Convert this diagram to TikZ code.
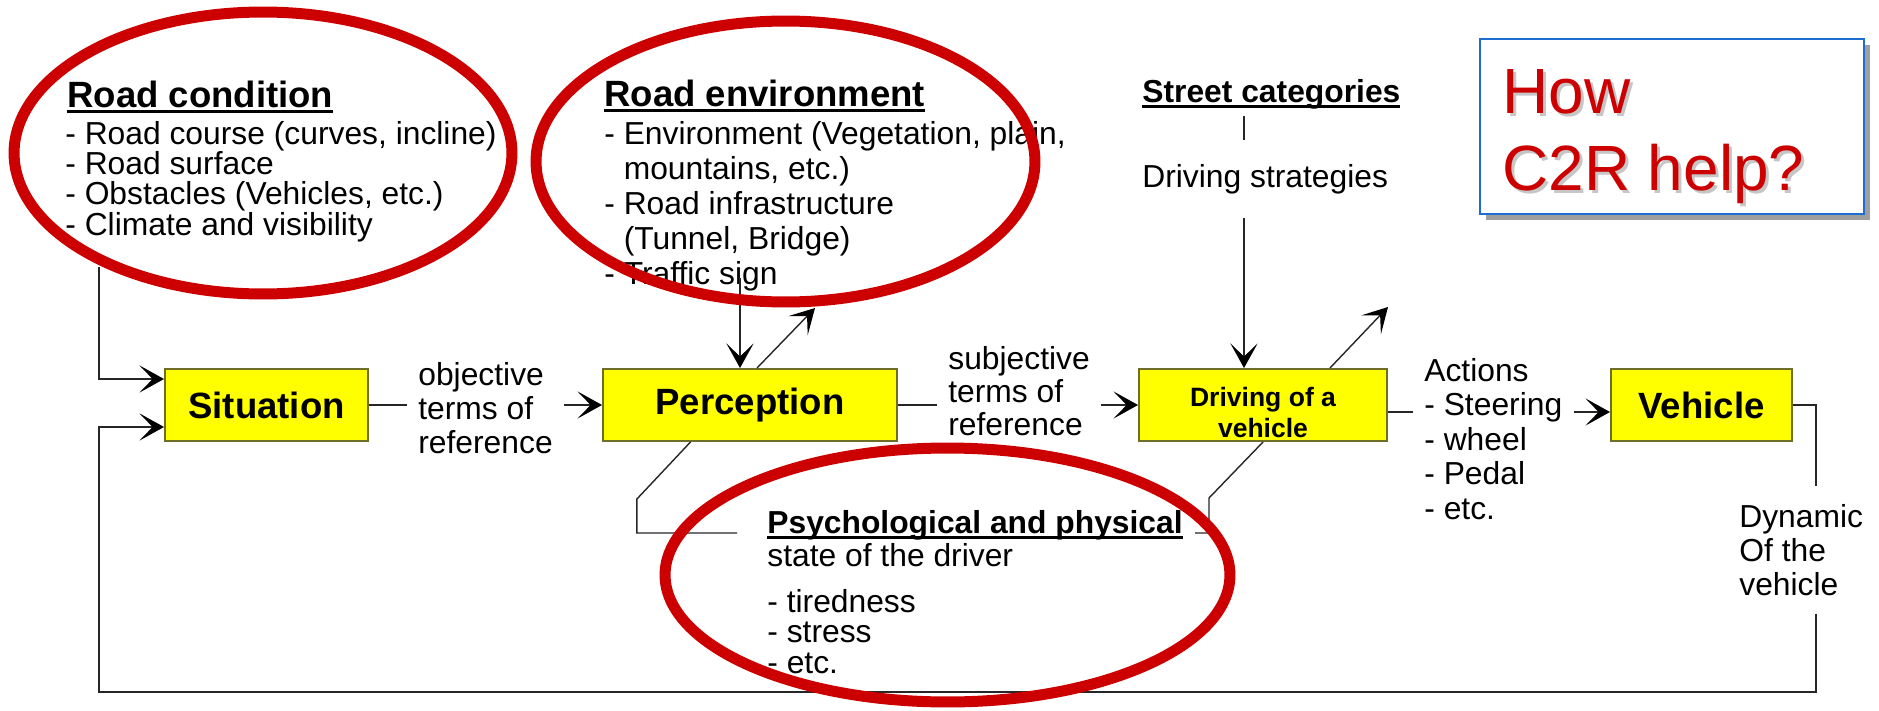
\documentclass[tikz,border=0pt]{standalone}
\usepackage{fontspec}
\setmainfont{Liberation Sans}
\usetikzlibrary{arrows.meta}

\definecolor{ringred}{RGB}{204,0,0}
\definecolor{boxyellow}{RGB}{255,255,0}
\definecolor{boxline}{RGB}{110,110,40}
\definecolor{frameblue}{RGB}{30,110,210}

% unterstrichene Ueberschrift
\newcommand{\ulhead}[1]{\setbox0\hbox{#1}\rlap{\rule[-3.4pt]{\wd0}{1.6pt}}\box0}

\tikzset{
  yellowbox/.style={draw=boxline, fill=boxyellow, line width=0.04cm, minimum height=1.44cm,
    inner sep=0pt, font=\fontsize{20.8}{24}\selectfont\bfseries},
  headbig/.style={anchor=base west, inner sep=0pt, font=\fontsize{20.8}{24}\selectfont\bfseries},
  headsmall/.style={anchor=base west, inner sep=0pt, font=\fontsize{18.1}{21}\selectfont\bfseries},
  bodytext/.style={anchor=base west, inner sep=0pt, align=left, font=\fontsize{18.1}{#1}\selectfont},
  bodytext/.default=20pt,
  drivetext/.style={anchor=base, align=center, inner sep=0pt, font=\fontsize{15.1}{17.6}\selectfont\bfseries},
  howtext/.style={anchor=base west, align=left, inner sep=0pt, text=ringred, font=\fontsize{36.4}{43.8}\selectfont},
  link/.style={line width=0.8pt, black!85},
  ring/.style={draw=ringred, line width=0.22cm}
}

\begin{document}
\begin{tikzpicture}[x=0.02cm, y=-0.02cm, >={Stealth[length=14pt,width=15.5pt,inset=7.5pt,black]}]
    \useasboundingbox (0,0) rectangle (1879,710);

    % Kaesten
    \node[yellowbox, minimum width=4.06cm] (sit) at (266.5,405) {Situation};
    \node[yellowbox, minimum width=5.88cm] (perc) at (750,405) {Perception};
    \node[yellowbox, minimum width=4.96cm] (drive) at (1263,405) {};
    \node[drivetext] (drivetxt) at (1263,437) {Driving of a\\vehicle};
    \node[yellowbox, minimum width=3.62cm] (veh) at (1701.5,405) {Vehicle};

    % Strassenzustand und Umgebung (Anker: letzte Grundlinie)
    \node[headbig] (rchead) at (67,107) {\ulhead{Road condition}};
    \node[bodytext=17.2pt] (rc) at (65,235) {- Road course (curves, incline)\\- Road surface\\- Obstacles (Vehicles, etc.)\\- Climate and visibility};
    \node[headbig] (rehead) at (604,106) {\ulhead{Road environment}};
    \node[bodytext=19.9pt] (re) at (604,284) {- Environment (Vegetation, plain,\\\hphantom{- }mountains, etc.)\\- Road infrastructure\\\hphantom{- }(Tunnel, Bridge)\\- Traffic sign};

    % Strassenkategorien
    \node[headsmall, inner ysep=0.13cm] (street) at (1142,102) {\ulhead{Street categories}};
    \node[bodytext, inner ysep=0.48cm] (strat) at (1142,187) {Driving strategies};

    % Fahrerzustand
    \node[headsmall] (psych) at (767,533) {\ulhead{Psychological and physical}};
    \node[bodytext=17.1pt] (psychtxt) at (767,673) {state of the driver\\[9.1pt]- tiredness\\- stress\\- etc.};

    % Beschriftungen
    \node[bodytext=19.1pt, inner xsep=0.22cm] (obj) at (407,453) {objective\\terms of\\reference};
    \node[bodytext=18.5pt, inner xsep=0.22cm] (subj) at (937,435) {subjective\\terms of\\reference};
    \node[bodytext=19.6pt, inner xsep=0.22cm] (act) at (1413,519) {Actions\\- Steering\\- wheel\\- Pedal\\- etc.};
    \node[bodytext=19.3pt, inner ysep=0.36cm] (dyn) at (1739,595) {Dynamic\\Of the\\vehicle};

    % Hilfspunkte
    \coordinate (rcout) at (99,267);
    \coordinate (reout) at (740,278);
    \coordinate (percup) at (815,308);
    \coordinate (driveup) at (1388,307);
    \coordinate (drivein) at ([xshift=-0.38cm]drive.north);
    \coordinate (loop) at (1816,692);

    % Verbindungen
    \draw[link, ->] (rcout) |- ([yshift=0.52cm]sit.west);
    \draw[link] (sit.east) -- (sit.east -| obj.west);
    \draw[link, ->] (obj.east |- perc.west) -- (perc.west);
    \draw[link, ->] (reout) -- (reout |- perc.north);
    \draw[link, ->] ([xshift=0.14cm]perc.north) -- (percup);
    \draw[link] (perc.east) -- (perc.east -| subj.west);
    \draw[link, ->] (subj.east |- drive.west) -- (drive.west);
    \draw[link] (street.south -| drivein) -- (strat.north -| drivein);
    \draw[link, ->] (strat.south -| drivein) -- (drivein);
    \draw[link, ->] ([xshift=1.34cm]drive.north) -- (driveup);
    \draw[link] ([yshift=-0.14cm]drive.east) -- ([yshift=-0.14cm]drive.east -| act.west);
    \draw[link, ->] ([yshift=-0.14cm]veh.west -| act.east) -- ([yshift=-0.14cm]veh.west);
    \draw[link] ([xshift=-1.19cm]perc.south) -- ++(-53.6,57) |- ([xshift=-0.6cm]psych.base west);
    \draw[link] (drive.south) -- ++(-54,56) |- ([xshift=0.24cm]psych.base east);

    % Rueckkopplung
    \draw[link] (veh.east) -| (dyn.north -| loop);
    \draw[link, ->] (dyn.south -| loop) |- (rcout |- loop) |- ([yshift=-0.44cm]sit.west);

    % Frage
    \fill[gray!75] (1486,45) rectangle (1870,220);
    \draw[frameblue, line width=0.04cm, fill=white] (1480,39) rectangle (1864,214);
    \node[howtext, text=gray!45] (howshadow) at (1505,193) {How\\C2R help?};
    \node[howtext] (how) at (1502,190) {How\\C2R help?};

    % Markierungen
    \draw[ring] (263,153) ellipse [x radius=4.98cm, y radius=2.82cm];
    \draw[ring] (785.5,161.5) ellipse [x radius=4.99cm, y radius=2.81cm];
    \draw[ring] (947.5,575) ellipse [x radius=5.65cm, y radius=2.54cm];
\end{tikzpicture}
\end{document}
